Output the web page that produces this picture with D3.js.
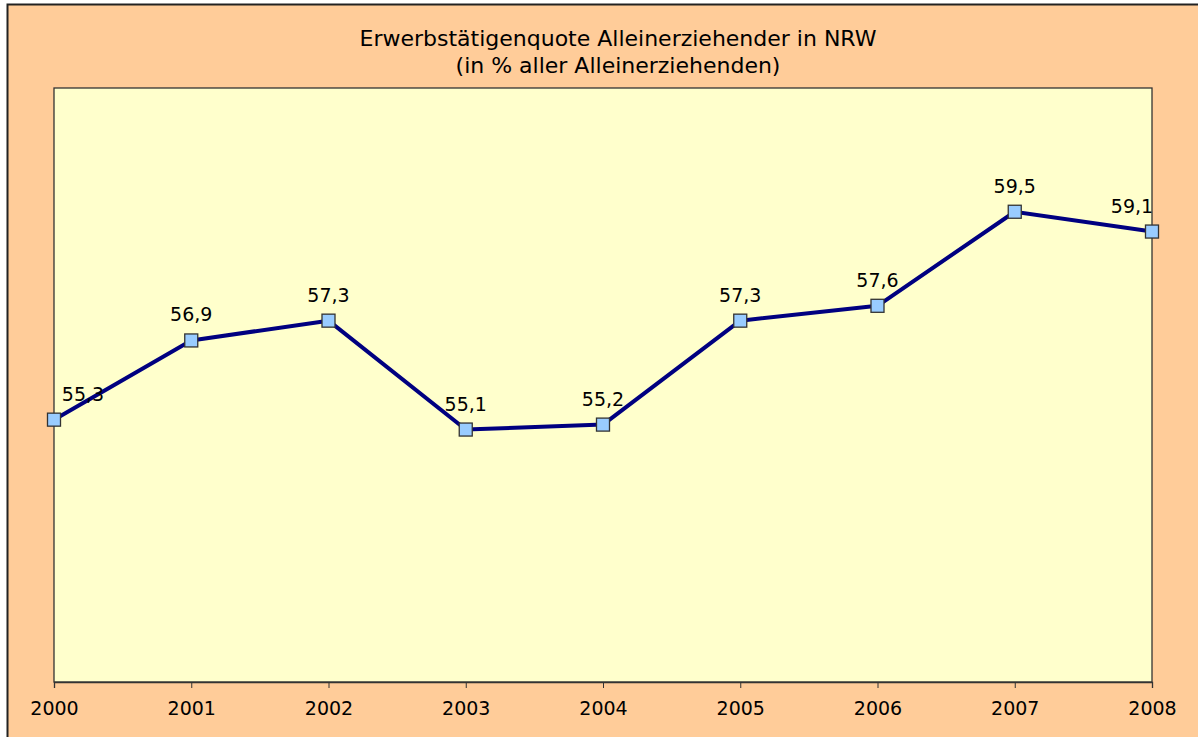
<!DOCTYPE html>
<html>
<head>
<meta charset="utf-8">
<script src="https://cdn.jsdelivr.net/npm/d3@7"></script>
<style>
  body { margin: 0; background: #fff; }
  svg { display: block; }
  text { font-family: "DejaVu Sans", "Open Sans", sans-serif; fill: #000; }
</style>
</head>
<body>
<svg id="chart" width="1198" height="737"></svg>
<script>
const years = ['2000','2001','2002','2003','2004','2005','2006','2007','2008'];
const quote = [55.3, 56.9, 57.3, 55.1, 55.2, 57.3, 57.6, 59.5, 59.1];
const titleLines = ['Erwerbstätigenquote Alleinerziehender in NRW', '(in % aller Alleinerziehenden)'];

const data = years.map((y, i) => ({year: y, value: quote[i]}));

const svg = d3.select('#chart');
const margin = {left: 54, top: 88, right: 1152, bottom: 682};

// outer chart area
svg.append('rect')
    .attr('x', 7.5)
    .attr('y', 4.5)
    .attr('width', 1220)
    .attr('height', 760)
    .attr('fill', '#ffcc99')
    .attr('stroke', '#222')
    .attr('stroke-width', 2);

// plot area
svg.append('rect')
    .attr('x', margin.left)
    .attr('y', margin.top)
    .attr('width', margin.right - margin.left)
    .attr('height', margin.bottom - margin.top)
    .attr('fill', '#ffffcc')
    .attr('stroke', '#333')
    .attr('stroke-width', 1.3);

const x = d3.scalePoint()
    .domain(years)
    .range([margin.left, margin.right]);

const y = d3.scaleLinear()
    .domain([50, 62])
    .range([margin.bottom, margin.top]);

// title
svg.append('g').selectAll('text')
    .data(titleLines)
    .enter().append('text')
    .attr('x', 618)
    .attr('y', (d, i) => 46 + i * 27)
    .attr('text-anchor', 'middle')
    .style('font-size', '22px')
    .text(d => d);

// x axis
const xAxis = svg.append('g')
    .attr('transform', `translate(0, ${margin.bottom})`)
    .call(d3.axisBottom(x).tickSize(6).tickPadding(14));
xAxis.select('.domain').attr('stroke', '#333').attr('stroke-width', 1.3);
xAxis.selectAll('.tick line').attr('stroke', '#333');
xAxis.selectAll('.tick text')
    .style('font-size', '19px')
    .style('font-family', '"DejaVu Sans", "Open Sans", sans-serif')
    .attr('fill', '#000');

// line
const line = d3.line()
    .x(d => x(d.year))
    .y(d => y(d.value));

svg.append('path')
    .datum(data)
    .attr('d', line)
    .attr('fill', 'none')
    .attr('stroke', '#000080')
    .attr('stroke-width', 4)
    .attr('stroke-linejoin', 'round');

// markers
svg.append('g').selectAll('rect')
    .data(data)
    .enter().append('rect')
    .attr('x', d => x(d.year) - 6.5)
    .attr('y', d => y(d.value) - 6.5)
    .attr('width', 13)
    .attr('height', 13)
    .attr('fill', '#99ccff')
    .attr('stroke', '#333')
    .attr('stroke-width', 1.3);

// data labels
const fmt = v => d3.format('.1f')(v).replace('.', ',');
svg.append('g').selectAll('text')
    .data(data)
    .enter().append('text')
    .attr('x', (d, i) => {
        const px = x(d.year);
        if (i === 0) return px + 29;
        if (i === data.length - 1) return px - 20;
        return px;
    })
    .attr('y', d => y(d.value) - 19)
    .attr('text-anchor', 'middle')
    .style('font-size', '19px')
    .text(d => fmt(d.value));
</script>
</body>
</html>
